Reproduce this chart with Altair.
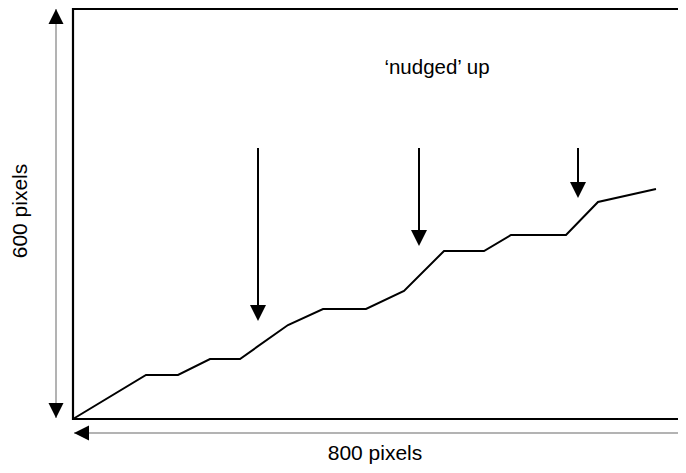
import altair as alt
import pandas as pd

# Line data (x in px from left edge of box, y in px above bottom of box)
line_x = [0, 73, 105, 137, 167, 215, 250, 293, 331, 371, 411, 438, 493, 525, 583]
line_y = [0, 44, 44, 60, 60, 94, 110, 110, 128, 168, 168, 184, 184, 217, 230]

# Down arrows: x position, top of shaft, tip
arrow_x = [185, 346, 505]
arrow_top = [271, 271, 271]
arrow_tip = [98, 173, 221]

label_nudge = "\u2018nudged\u2019 up"
label_x = "800 pixels"
label_y = "600 pixels"

XD = [-65, 605]
YD = [-46, 411]
xs = alt.Scale(domain=XD, nice=False, zero=False)
ys = alt.Scale(domain=YD, nice=False, zero=False)

def X(f="x"):
    return alt.X(f, type="quantitative", scale=xs, axis=None)

def Y(f="y"):
    return alt.Y(f, type="quantitative", scale=ys, axis=None)

# Box edges
box = pd.DataFrame({"x": [0, 0, 0], "x2": [0, 620, 620], "y": [-1, 0, 410], "y2": [411, 0, 410]})
box_layer = alt.Chart(box).mark_rule(color="black", strokeWidth=2.2).encode(
    x=X(), x2="x2", y=Y(), y2="y2")

line_df = pd.DataFrame({"x": line_x, "y": line_y, "o": range(len(line_x))})
line_layer = alt.Chart(line_df).mark_line(color="black", strokeWidth=2).encode(
    x=X(), y=Y(), order="o")

arr = pd.DataFrame({"x": arrow_x, "y": arrow_top, "y2": [t + 12 for t in arrow_tip], "tip": arrow_tip})
shaft = alt.Chart(arr).mark_rule(color="black", strokeWidth=2).encode(x=X(), y=Y(), y2="y2")
heads = alt.Chart(arr).mark_point(shape="M-1,-2L1,-2L0,0Z", filled=True, size=256,
                                  color="black", opacity=1).encode(x=X(), y=Y("tip"))

# Dimension arrows (grey)
dim = pd.DataFrame({"x": [-17, 1], "x2": [-17, 620], "y": [1, -14], "y2": [410, -14]})
dim_layer = alt.Chart(dim).mark_rule(color="#9a9a9a", strokeWidth=1.5).encode(
    x=X(), x2="x2", y=Y(), y2="y2")

heads_v = pd.DataFrame({"x": [-17], "y": [410]})
head_up = alt.Chart(heads_v).mark_point(shape="M-1,2L1,2L0,0Z", filled=True, size=225,
                                        color="black", opacity=1).encode(x=X(), y=Y())
heads_v2 = pd.DataFrame({"x": [-17], "y": [1]})
head_down = alt.Chart(heads_v2).mark_point(shape="M-1,-2L1,-2L0,0Z", filled=True, size=225,
                                           color="black", opacity=1).encode(x=X(), y=Y())
heads_h1 = pd.DataFrame({"x": [1], "y": [-14]})
head_left = alt.Chart(heads_h1).mark_point(shape="M2,-1L2,1L0,0Z", filled=True, size=225,
                                           color="black", opacity=1).encode(x=X(), y=Y())
heads_h2 = pd.DataFrame({"x": [621], "y": [-14]})
head_right = alt.Chart(heads_h2).mark_point(shape="M-2,-1L-2,1L0,0Z", filled=True, size=225,
                                            color="black", opacity=1).encode(x=X(), y=Y())

t1 = pd.DataFrame({"x": [364], "y": [351], "t": [label_nudge]})
t1_layer = alt.Chart(t1).mark_text(font="Liberation Sans", fontSize=20.5, color="black",
                                   baseline="middle", align="center").encode(
    x=X(), y=Y(), text="t")
t2 = pd.DataFrame({"x": [302], "y": [-41], "t": [label_x]})
t2_layer = alt.Chart(t2).mark_text(font="Liberation Sans", fontSize=21, color="black",
                                   baseline="alphabetic", align="center").encode(
    x=X(), y=Y(), text="t")
ytext = pd.DataFrame({"x": [-46], "y": [208], "t": [label_y]})
ytext_layer = alt.Chart(ytext).mark_text(font="Liberation Sans", fontSize=21, color="black",
                                         baseline="alphabetic", align="center", angle=270).encode(
    x=X(), y=Y(), text="t")

chart = alt.layer(dim_layer, head_up, head_down, head_left, head_right, box_layer, line_layer,
                  shaft, heads, t1_layer, t2_layer, ytext_layer).properties(
    width=670, height=457,
    autosize=alt.AutoSizeParams(type="none"),
    padding=0,
).configure_view(stroke=None)

chart.save("out.html", embed_options={"renderer": "svg", "actions": False})
